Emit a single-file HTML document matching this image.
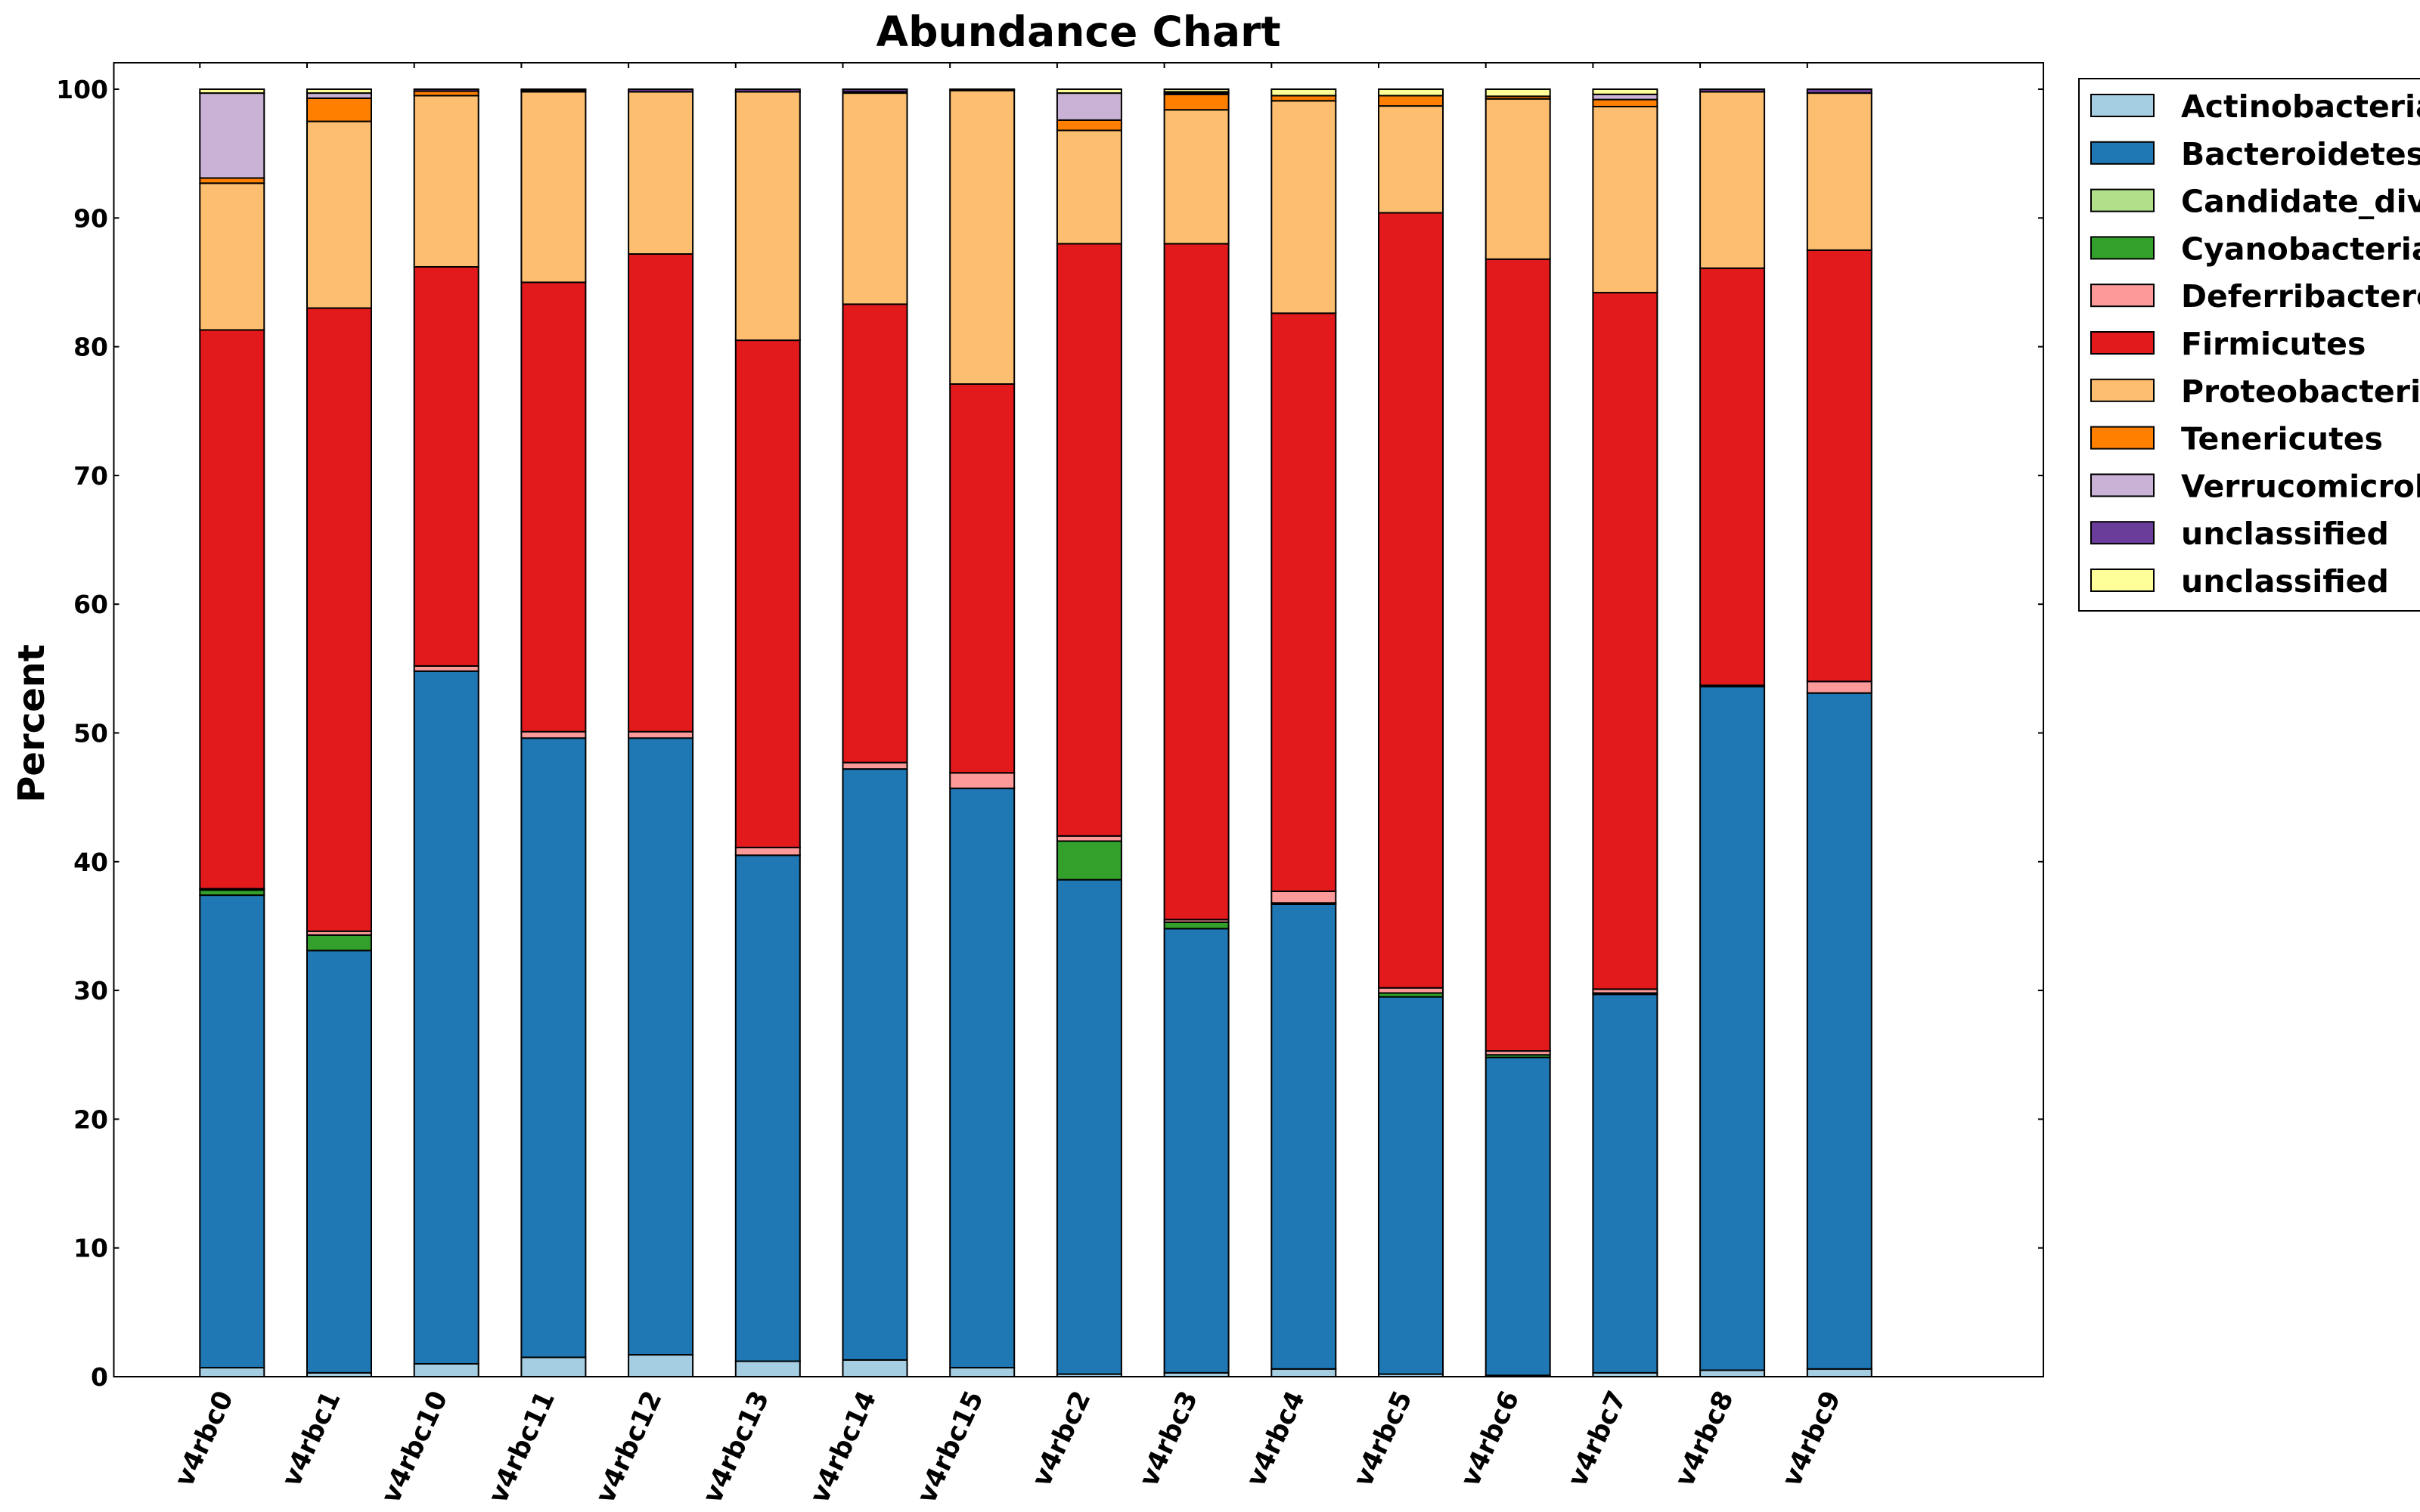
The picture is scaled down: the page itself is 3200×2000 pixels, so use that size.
<!DOCTYPE html>
<html>
<head>
<meta charset="utf-8">
<style>
  html,body{margin:0;padding:0;background:#fff;}
  svg{display:block;font-family:"DejaVu Sans","Liberation Sans",sans-serif;font-weight:bold;}
</style>
</head>
<body>
<svg id="chart" width="3200" height="2000" viewBox="0 0 3200 2000" xmlns="http://www.w3.org/2000/svg">
  <rect x="0" y="0" width="3200" height="2000" fill="#fff"/>
  <text x="1426" y="61" font-size="55" text-anchor="middle">Abundance Chart</text>
  <text x="0" y="0" font-size="48" text-anchor="middle" transform="translate(58,957) rotate(-90)">Percent</text>
  <g id="bars"></g>
  <g id="axes"></g>
  <g id="legend"></g>
</svg>
<script>
const samples = ["v4rbc0","v4rbc1","v4rbc10","v4rbc11","v4rbc12","v4rbc13","v4rbc14","v4rbc15","v4rbc2","v4rbc3","v4rbc4","v4rbc5","v4rbc6","v4rbc7","v4rbc8","v4rbc9"];
const seriesNames = ["Actinobacteria","Bacteroidetes","Candidate_division","Cyanobacteria","Deferribacteres","Firmicutes","Proteobacteria","Tenericutes","Verrucomicrobia","unclassified","unclassified"];
const seriesColors = ["#a6cee3","#1f78b4","#b2df8a","#33a02c","#fb9a99","#e31a1c","#fdbf6f","#ff7f00","#cab2d6","#6a3d9a","#ffff99"];
const actinobacteria  = [0.7,0.3,1.0,1.5,1.7,1.2,1.3,0.7,0.2,0.3,0.6,0.2,0.1,0.3,0.5,0.6];
const bacteroidetes   = [36.7,32.8,53.8,48.1,47.9,39.3,45.9,45.0,38.4,34.5,36.1,29.3,24.7,29.4,53.1,52.5];
const candidateDiv    = [0,0,0,0,0,0,0,0,0,0,0,0,0,0,0,0];
const cyanobacteria   = [0.4,1.2,0,0,0,0,0,0,3.0,0.5,0.1,0.3,0.2,0.1,0.1,0];
const deferribacteres = [0.1,0.3,0.4,0.5,0.5,0.6,0.5,1.2,0.4,0.2,0.9,0.4,0.3,0.3,0,0.9];
const firmicutes      = [43.4,48.4,31.0,34.9,37.1,39.4,35.6,30.2,46.0,52.5,44.9,60.2,61.5,54.1,32.4,33.5];
const proteobacteria  = [11.4,14.5,13.3,14.8,12.6,19.3,16.4,22.8,8.8,10.4,16.5,8.3,12.45,14.45,13.7,12.2];
const tenericutes     = [0.4,1.8,0.35,0,0,0,0.1,0,0.8,1.2,0.4,0.8,0.2,0.55,0,0];
const verrucomicrobia = [6.6,0.4,0,0,0,0,0,0,2.1,0.1,0,0,0,0.4,0,0];
const unclassifiedP   = [0,0,0.15,0.1,0.2,0.2,0.2,0.1,0,0.1,0,0,0,0,0.2,0.3];
const unclassifiedY   = [0.3,0.3,0,0.1,0,0,0,0,0.3,0.2,0.5,0.5,0.55,0.4,0,0];
const seriesValues = [actinobacteria,bacteroidetes,candidateDiv,cyanobacteria,deferribacteres,firmicutes,proteobacteria,tenericutes,verrucomicrobia,unclassifiedP,unclassifiedY];
const yTicks = [0,10,20,30,40,50,60,70,80,90,100];

const NS = "http://www.w3.org/2000/svg";
const plotL = 150.5, plotR = 2702, plotT = 83, plotB = 1821;
const y0px = 1821, pxPerUnit = 17.03;
const barStart = 264.3, barStep = 141.7, barW = 85;
function yScale(v){ return y0px - v * pxPerUnit; }
function xLeft(i){ return barStart + i * barStep; }
function mk(tag, attrs){ const e = document.createElementNS(NS, tag); for (const k in attrs) e.setAttribute(k, attrs[k]); return e; }

const barsG = document.getElementById('bars');
samples.forEach((s, i) => {
  let cum = 0;
  seriesValues.forEach((vals, k) => {
    const v = vals[i];
    if (v <= 0) return;
    const yTop = yScale(cum + v), yBot = yScale(cum);
    const r = mk('rect', {x: xLeft(i), y: yTop, width: barW, height: yBot - yTop, fill: seriesColors[k], stroke: '#000', 'stroke-width': 2});
    
    
    barsG.appendChild(r);
    cum += v;
  });
});

const axesG = document.getElementById('axes');
const frame = mk('rect', {x: plotL, y: plotT, width: plotR - plotL, height: plotB - plotT, fill: 'none', stroke: '#000', 'stroke-width': 2});


axesG.appendChild(frame);

yTicks.forEach(t => {
  const y = yScale(t);
  const l1 = mk('line', {x1: plotL, x2: plotL + 7, y1: y, y2: y, stroke: '#000', 'stroke-width': 2});
  
  
  axesG.appendChild(l1);
  const l2 = mk('line', {x1: plotR - 7, x2: plotR, y1: y, y2: y, stroke: '#000', 'stroke-width': 2});
  
  
  axesG.appendChild(l2);
  const tx = mk('text', {x: 143, y: y + 12, 'font-size': 33, 'text-anchor': 'end'});
  tx.textContent = t;
  
  
  axesG.appendChild(tx);
});

samples.forEach((s, i) => {
  const x = xLeft(i);
  const t1 = mk('line', {x1: x, x2: x, y1: plotT, y2: plotT + 7, stroke: '#000', 'stroke-width': 2});
  
  
  axesG.appendChild(t1);
  const cx = x + barW / 2;
  const lab = mk('text', {x: 0, y: 0, 'font-size': 35, 'text-anchor': 'end', transform: 'translate(' + (cx + 2) + ',1847) rotate(-65)'});
  lab.textContent = s;
  
  
  axesG.appendChild(lab);
});

const legG = document.getElementById('legend');
const box = mk('rect', {x: 2749, y: 104, width: 600, height: 704, fill: '#fff', stroke: '#000', 'stroke-width': 2});


legG.appendChild(box);
seriesNames.forEach((n, k) => {
  const y = 125 + k * 62.8;
  const p = mk('rect', {x: 2765, y: y, width: 83, height: 29, fill: seriesColors[k], stroke: '#000', 'stroke-width': 2});
  
  
  legG.appendChild(p);
  const t = mk('text', {x: 2884, y: y + 30, 'font-size': 41});
  t.textContent = n;
  
  
  legG.appendChild(t);
});
</script>
</body>
</html>
